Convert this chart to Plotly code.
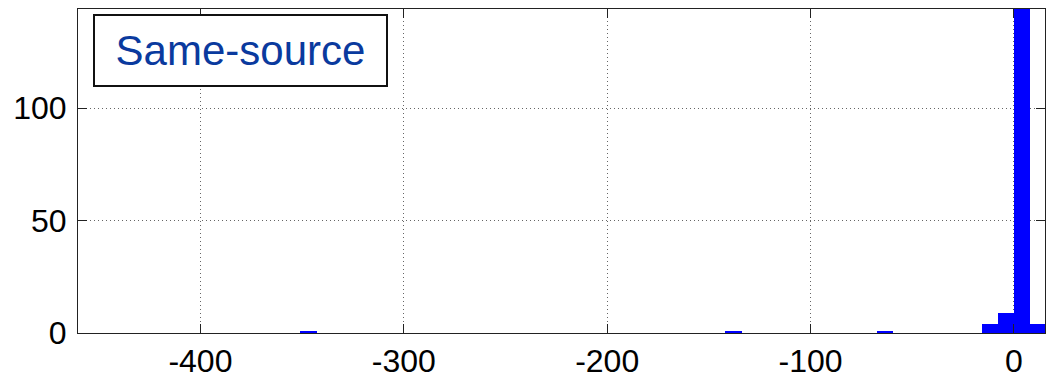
import plotly.graph_objects as go

# Histogram bin centers and counts
bin_centers = [-346.9, -137.9, -63.4, -11.5, -3.7, 4.1, 11.9]
counts = [1, 1, 1, 4, 9, 165, 4]
bin_width = 8.0

x_ticks = [-400, -300, -200, -100, 0]
y_ticks = [0, 50, 100]
legend_label = "Same-source"

fig = go.Figure()
fig.add_trace(go.Bar(
    x=bin_centers, y=counts, width=bin_width,
    marker=dict(color="#0000ff", line=dict(width=0)),
    showlegend=False, hoverinfo="skip",
))

axis_common = dict(
    showline=True, linecolor="#222222", linewidth=1, mirror="ticks",
    ticks="inside", ticklen=9, tickcolor="#222222", tickwidth=1,
    showgrid=True, gridcolor="#666666", griddash="1px,3px", gridwidth=1,
    zeroline=False, automargin=False,
    tickfont=dict(family="Liberation Sans, Arial, sans-serif", size=32, color="#000000"),
)

fig.update_layout(
    width=1046, height=376,
    margin=dict(l=78, r=1, t=9, b=43),
    paper_bgcolor="white", plot_bgcolor="white",
    bargap=0,
    xaxis=dict(range=[-460.2, 15.3], tickvals=x_ticks, ticktext=[str(v) for v in x_ticks],
               ticklabelstandoff=0, **axis_common),
    yaxis=dict(range=[0, 144], tickvals=y_ticks, ticktext=[str(v) for v in y_ticks],
               ticklabelstandoff=4, **axis_common),
)

fig.add_annotation(
    xref="x", yref="y", x=-380.5, y=125.6,
    xanchor="center", yanchor="middle",
    text=legend_label, showarrow=False,
    font=dict(family="Liberation Sans, Arial, sans-serif", size=42, color="#0a3a9e"),
    bgcolor="white", bordercolor="#111111", borderwidth=2, borderpad=0,
    width=291, height=69,
)

fig.write_html(
    "out.html",
    config={"displayModeBar": False},
    post_script="document.body.style.margin='0';document.body.style.overflow='hidden';",
)
